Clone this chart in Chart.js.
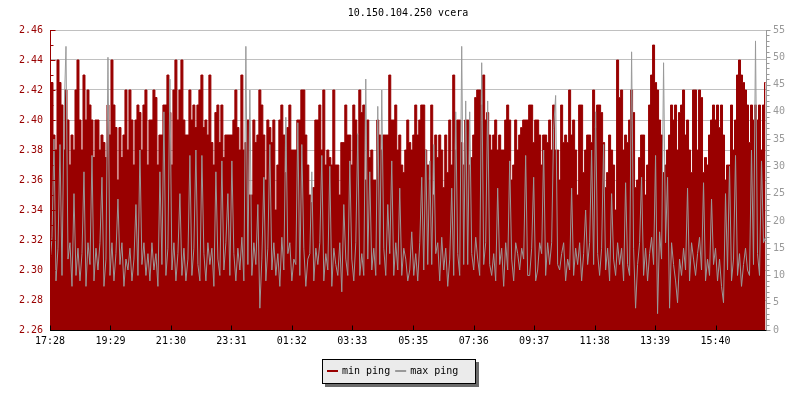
<!DOCTYPE html>
<html><head><meta charset="utf-8">
<script src="https://cdn.jsdelivr.net/npm/chart.js@4/dist/chart.umd.min.js"></script>
<style>html,body{margin:0;padding:0;background:#fff}#wrap{width:800px;height:400px}</style>
</head><body><div id="wrap"><canvas id="c" width="800" height="400"></canvas></div>
<script>
const chartTitle = '10.150.104.250 vcera';
const seriesNames = ['min ping', 'max ping'];
const tickLabels = ['17:28','19:29','21:30','23:31','01:32','03:33','05:35','07:36','09:37','11:38','13:39','15:40'];
const sampleStepMinutes = 4;
const spanMinutes = 1433;
const leftTicks = { min: 2.26, max: 2.46, step: 0.01 };
const rightTicks = { min: 0, max: 55, step: 1 };

const minPing = [
2.41,2.425,2.39,2.38,2.44,2.425,2.41,2.38,2.42,2.40,
2.37,2.39,2.38,2.42,2.44,2.40,2.38,2.43,2.40,2.42,
2.41,2.40,2.375,2.40,2.40,2.38,2.39,2.385,2.375,2.41,
2.39,2.44,2.41,2.395,2.36,2.395,2.375,2.39,2.42,2.38,
2.42,2.40,2.37,2.40,2.41,2.405,2.38,2.41,2.42,2.37,
2.40,2.40,2.42,2.415,2.37,2.39,2.39,2.41,2.41,2.43,
2.405,2.37,2.42,2.44,2.40,2.42,2.44,2.40,2.39,2.39,
2.42,2.40,2.41,2.395,2.41,2.42,2.43,2.395,2.40,2.39,
2.43,2.385,2.37,2.405,2.41,2.385,2.41,2.375,2.39,2.39,
2.39,2.39,2.40,2.42,2.395,2.38,2.43,2.38,2.385,2.40,
2.35,2.35,2.40,2.385,2.39,2.42,2.41,2.39,2.36,2.40,
2.395,2.385,2.40,2.34,2.37,2.40,2.41,2.39,2.365,2.395,
2.41,2.38,2.38,2.38,2.40,2.40,2.42,2.42,2.39,2.37,
2.35,2.345,2.355,2.40,2.40,2.41,2.38,2.42,2.37,2.38,
2.375,2.37,2.42,2.37,2.37,2.35,2.385,2.385,2.41,2.39,
2.39,2.37,2.41,2.40,2.39,2.42,2.405,2.41,2.36,2.40,
2.375,2.38,2.36,2.36,2.40,2.39,2.38,2.39,2.39,2.39,
2.43,2.40,2.40,2.41,2.38,2.39,2.37,2.365,2.38,2.40,
2.385,2.38,2.39,2.41,2.39,2.40,2.41,2.41,2.38,2.37,
2.36,2.41,2.35,2.39,2.375,2.39,2.38,2.355,2.39,2.365,
2.40,2.37,2.43,2.38,2.40,2.40,2.385,2.37,2.40,2.40,
2.37,2.375,2.39,2.415,2.42,2.42,2.41,2.43,2.40,2.405,
2.39,2.38,2.39,2.40,2.38,2.39,2.38,2.38,2.40,2.41,
2.40,2.36,2.37,2.40,2.38,2.39,2.395,2.40,2.40,2.40,
2.41,2.41,2.385,2.40,2.40,2.39,2.37,2.39,2.39,2.385,
2.40,2.38,2.41,2.38,2.38,2.36,2.41,2.385,2.39,2.385,
2.42,2.39,2.40,2.38,2.35,2.41,2.41,2.365,2.38,2.39,
2.39,2.385,2.42,2.395,2.41,2.41,2.405,2.385,2.355,2.365,
2.39,2.38,2.37,2.34,2.44,2.415,2.42,2.38,2.39,2.385,
2.40,2.42,2.405,2.355,2.36,2.375,2.39,2.39,2.35,2.37,
2.41,2.43,2.45,2.425,2.42,2.40,2.39,2.365,2.37,2.38,
2.39,2.41,2.40,2.41,2.38,2.405,2.41,2.42,2.39,2.40,
2.38,2.365,2.42,2.42,2.38,2.42,2.415,2.365,2.375,2.37,
2.39,2.40,2.41,2.40,2.41,2.395,2.41,2.39,2.36,2.37,
2.37,2.41,2.38,2.40,2.43,2.44,2.43,2.425,2.42,2.41,
2.385,2.41,2.40,2.41,2.40,2.41,2.38,2.41,2.425
];

const maxPing = [
12,17,35,9,15,34,10,39,52,13,
16,8,25,10,15,9,14,29,8,16,
12,32,9,15,11,16,28,8,13,50,
10,16,9,14,24,12,16,8,13,11,
15,9,13,23,10,33,12,16,10,14,
9,16,11,14,8,29,12,40,10,15,
46,11,16,9,14,25,10,15,9,13,
32,10,15,33,12,9,32,14,9,16,
12,15,8,29,13,10,31,11,16,25,
10,31,14,9,15,11,17,9,52,12,
44,10,16,12,23,4,13,28,9,15,
34,11,16,10,14,8,17,11,39,14,
16,9,13,12,38,10,34,15,8,13,
14,29,9,15,12,16,32,9,14,11,
30,8,15,12,10,16,7,23,13,10,
31,13,9,16,36,10,14,10,46,13,
29,11,15,10,41,12,44,15,10,23,
14,31,10,16,11,26,10,15,13,9,
11,18,10,14,9,16,28,11,33,12,
31,12,34,14,16,9,17,11,15,8,
13,26,10,40,14,10,52,12,42,12,
40,14,11,17,13,10,49,12,16,42,
12,10,14,9,26,12,15,8,16,11,
31,13,9,16,14,11,15,13,32,10,
10,15,28,9,11,16,14,33,10,16,
12,16,37,43,12,11,14,16,9,13,
11,26,10,15,12,16,9,14,22,12,
16,33,12,40,14,10,15,34,11,15,
9,25,13,10,16,12,15,9,27,12,
10,51,15,4,12,16,28,10,15,9,
14,17,12,32,3,18,13,49,16,28,
4,16,12,9,5,13,10,15,11,26,
9,16,13,10,14,17,11,27,9,13,
10,24,12,15,9,13,8,5,25,11,
30,9,13,32,10,14,8,12,15,11,
10,33,12,53,14,10,31,16,17
];

const FONT = "'DejaVu Sans Mono', monospace";
const RED = '#990000', GRAY = '#999999', GRID = '#c0c0c0';

function toMinutes(label) { const p = label.split(':').map(Number); return p[0] * 60 + p[1]; }
const startMin = toMinutes(tickLabels[0]);
const tickMinutes = tickLabels.map(l => (toMinutes(l) - startMin + 1440) % 1440);

const minPts = minPing.map((v, i) => ({ x: i * sampleStepMinutes, y: v }));
const maxPts = maxPing.map((v, i) => ({ x: i * sampleStepMinutes, y: v }));

const isMajorLeft = v => Math.round(v * 100) % 2 === 0;
const isMajorRight = v => Math.round(v) % 5 === 0;

const axisMarks = {
  id: 'axisMarks',
  afterDatasetsDraw(chart) {
    const { ctx, chartArea: a, scales } = chart;
    const L = Math.round(a.left) + 0.5, R = Math.round(a.right) + 0.5;
    const T = Math.round(a.top), B = Math.round(a.bottom) + 0.5;
    ctx.save();
    ctx.lineWidth = 1;
    ctx.strokeStyle = RED;
    ctx.beginPath();
    ctx.moveTo(L, T); ctx.lineTo(L, B);
    scales.y.ticks.forEach(t => {
      const py = Math.round(scales.y.getPixelForValue(t.value)) + 0.5;
      const len = isMajorLeft(t.value) ? 5 : 3;
      ctx.moveTo(L, py); ctx.lineTo(L + len, py);
    });
    ctx.stroke();
    ctx.strokeStyle = GRAY;
    ctx.beginPath();
    ctx.moveTo(R, T); ctx.lineTo(R, B);
    scales.y2.ticks.forEach(t => {
      const py = Math.round(scales.y2.getPixelForValue(t.value)) + 0.5;
      const len = isMajorRight(t.value) ? 4 : 3;
      ctx.moveTo(R, py); ctx.lineTo(R + len, py);
    });
    ctx.stroke();
    ctx.strokeStyle = '#000';
    ctx.beginPath();
    ctx.moveTo(L - 0.5, B); ctx.lineTo(R, B);
    scales.x.ticks.forEach(t => {
      const px = Math.round(scales.x.getPixelForValue(t.value)) + 0.5;
      ctx.moveTo(px, B); ctx.lineTo(px, B - 5);
    });
    ctx.stroke();
    ctx.restore();
  }
};

const legendBox = {
  id: 'legendBox',
  afterDraw(chart) {
    const ctx = chart.ctx;
    ctx.save();
    ctx.font = '10px ' + FONT;
    const items = chart.data.datasets.map(d => ({ text: d.label, color: d.borderColor }));
    const sw = 11, gapIn = 4, gapOut = 5, padL = 5, padR = 17;
    let w = padL + padR;
    items.forEach((it, k) => { w += sw + gapIn + ctx.measureText(it.text).width + (k < items.length - 1 ? gapOut : 0); });
    w = Math.round(w);
    const h = 24, top = 359;
    const left = Math.floor((chart.width - w) / 2) - 1;
    ctx.fillStyle = '#6b6b6b';
    ctx.fillRect(left + 3, top + 3, w + 1, h + 1);
    ctx.fillStyle = '#ebebeb';
    ctx.fillRect(left, top, w + 1, h + 1);
    ctx.strokeStyle = '#000';
    ctx.lineWidth = 1;
    ctx.strokeRect(left + 0.5, top + 0.5, w, h);
    let x = left + padL;
    const cy = top + 12;
    ctx.textBaseline = 'middle';
    ctx.textAlign = 'left';
    items.forEach(it => {
      ctx.fillStyle = it.color;
      ctx.fillRect(x, cy - 1, sw, 2);
      x += sw + gapIn;
      ctx.fillStyle = '#000';
      ctx.fillText(it.text, x, cy);
      x += ctx.measureText(it.text).width + gapOut;
    });
    ctx.restore();
  }
};

new Chart(document.getElementById('c'), {
  type: 'line',
  data: {
    datasets: [
      { label: seriesNames[0], data: minPts, yAxisID: 'y', borderColor: RED, backgroundColor: RED,
        borderWidth: 1, fill: 'start', stepped: 'middle', pointRadius: 0, order: 1 },
      { label: seriesNames[1], data: maxPts, yAxisID: 'y2', borderColor: GRAY, backgroundColor: GRAY,
        borderWidth: 1, fill: false, tension: 0, pointRadius: 0, order: 0 }
    ]
  },
  options: {
    responsive: false,
    animation: false,
    devicePixelRatio: 1,
    layout: { padding: 0 },
    plugins: {
      legend: { display: false },
      tooltip: { enabled: false },
      title: { display: true, text: chartTitle, fullSize: false, color: '#000',
        font: { family: FONT, size: 10, weight: 'normal' }, padding: { top: 7, bottom: 11 } }
    },
    scales: {
      x: {
        type: 'linear', min: 0, max: spanMinutes,
        afterBuildTicks: s => { s.ticks = tickMinutes.map(v => ({ value: v })); },
        afterFit: s => { s.height = 70; },
        grid: { display: false, drawTicks: false },
        border: { display: false },
        ticks: { autoSkip: false, maxRotation: 0, padding: 5, color: '#000',
          font: { family: FONT, size: 10 }, callback: (v, i) => tickLabels[i] }
      },
      y: {
        position: 'left', min: leftTicks.min, max: leftTicks.max,
        afterFit: s => { s.width = 50; },
        grid: { drawTicks: false, color: c => (c.tick && isMajorLeft(c.tick.value)) ? GRID : 'rgba(0,0,0,0)' },
        border: { display: false },
        ticks: { stepSize: leftTicks.step, autoSkip: false, padding: 7, color: RED,
          font: { family: FONT, size: 10 }, callback: v => isMajorLeft(v) ? v.toFixed(2) : '' }
      },
      y2: {
        position: 'right', min: rightTicks.min, max: rightTicks.max,
        afterFit: s => { s.width = 34; },
        grid: { display: false, drawTicks: false, drawOnChartArea: false },
        border: { display: false },
        ticks: { stepSize: rightTicks.step, autoSkip: false, padding: 7, color: GRAY,
          font: { family: FONT, size: 10 }, callback: v => isMajorRight(v) ? String(Math.round(v)) : '' }
      }
    }
  },
  plugins: [axisMarks, legendBox]
});
</script>
</body></html>
